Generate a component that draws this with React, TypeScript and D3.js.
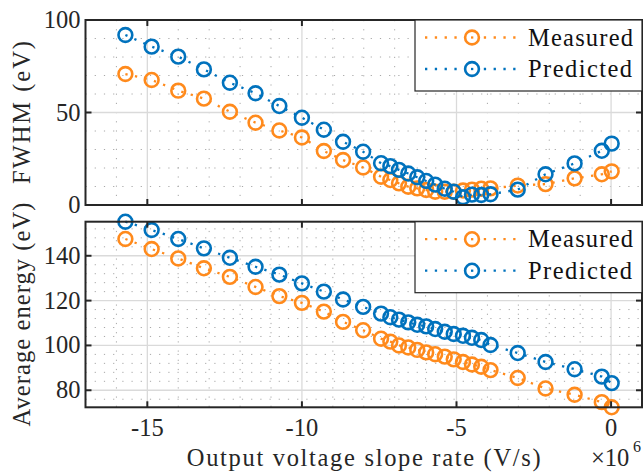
import React from "react";
import * as d3 from "d3";

// Slope rate (×10^6 V/s) for each operating point
const slopeRates = [
  -15.71, -14.86, -14.0, -13.17, -12.33, -11.5, -10.73, -10.0, -9.29, -8.67, -8.02,
  -7.44, -7.14, -6.86, -6.56, -6.27, -5.98, -5.69, -5.38, -5.09, -4.79, -4.5, -4.2, -3.9,
  -3.02, -2.12, -1.18, -0.3, 0.02,
];

// FWHM (eV)
const fwhmMeasured = [
  70.8, 67.6, 61.8, 57.5, 50.4, 44.5, 40.3, 36.5, 29.2, 24.3, 20.3,
  15.3, 13.5, 11.7, 9.9, 9.0, 8.1, 7.2, 7.2, 7.2, 7.8, 8.3, 8.8, 9.0,
  10.5, 11.3, 14.4, 16.6, 18.2,
];
const fwhmPredicted = [
  91.9, 85.6, 80.2, 73.3, 66.1, 60.4, 53.5, 47.2, 40.7, 34.2, 28.8,
  22.6, 21.0, 19.0, 17.0, 15.0, 13.0, 11.0, 8.8, 7.2, 4.2, 5.6, 5.4, 5.8,
  8.3, 16.6, 22.5, 29.3, 33.2,
];

// Average energy (eV)
const energyMeasured = [
  147.5, 143.0, 138.8, 134.4, 130.6, 126.1, 122.0, 119.0, 115.1, 110.5, 106.8,
  103.0, 101.7, 100.0, 99.1, 98.0, 96.9, 96.1, 95.0, 93.8, 92.6, 91.5, 90.5, 89.0,
  85.5, 80.8, 78.0, 74.7, 72.4,
];
const energyPredicted = [
  155.2, 151.5, 147.5, 143.3, 139.1, 135.1, 131.6, 127.7, 124.0, 120.5, 117.2,
  114.2, 112.6, 111.5, 110.3, 109.2, 108.5, 107.3, 106.1, 105.1, 104.3, 103.4, 102.4, 100.2,
  96.6, 92.6, 89.4, 86.1, 83.2,
];

const seriesNames = ["Measured", "Predicted"];
const seriesColors = ["#ff8a1c", "#0072bd"];

const xTicks = [-15, -10, -5, 0];
const xTickLabels = ["-15", "-10", "-5", "0"];
const xMinorTicks = [-16, -14, -13, -12, -11, -9, -8, -7, -6, -4, -3, -2, -1];
const fwhmTicks = [0, 50, 100];
const fwhmMinorTicks = [10, 20, 30, 40, 60, 70, 80, 90];
const energyTicks = [80, 100, 120, 140];
const energyMinorTicks = [76, 84, 88, 92, 96, 104, 108, 112, 116, 124, 128, 132, 136, 144, 148, 152];

const W = 643;
const H = 475;
const LEFT = 85.5;
const RIGHT = 642;
const FONT = "Liberation Serif";
const AXIS_COLOR = "#262626";
const textStyle = { fontFamily: FONT, fontSize: 24.5 } as const;

const x = d3.scaleLinear().domain([-17, 1]).range([LEFT, RIGHT]);

type PanelProps = {
  top: number;
  bottom: number;
  domain: [number, number];
  ticks: number[];
  minorTicks: number[];
  series: number[][];
  ylabel: string;
  ylabelLength: number;
  showXLabels: boolean;
};

function Panel({ top, bottom, domain, ticks, minorTicks, series, ylabel, ylabelLength, showXLabels }: PanelProps) {
  const y = d3.scaleLinear().domain(domain).range([bottom, top]);
  const line = d3
    .line<number>()
    .x((_, i) => x(slopeRates[i]))
    .y((d) => y(d));
  const tickLen = 6;
  const legendLeft = 415;
  const legendTop = top;
  const legendH = 71;
  return (
    <g>
      {/* minor grid */}
      {xMinorTicks.map((t) => (
        <line key={"xm" + t} x1={x(t)} x2={x(t)} y1={top} y2={bottom} stroke="#a8a8a8" strokeWidth={1} strokeDasharray="1.2 8" />
      ))}
      {minorTicks.map((t) => (
        <line key={"ym" + t} x1={LEFT} x2={RIGHT} y1={y(t)} y2={y(t)} stroke="#a8a8a8" strokeWidth={1} strokeDasharray="1.2 8" />
      ))}
      {/* major grid */}
      {xTicks.map((t) => (
        <line key={"xg" + t} x1={x(t)} x2={x(t)} y1={top} y2={bottom} stroke="#dadada" strokeWidth={1.3} />
      ))}
      {ticks.map((t) => (
        <line key={"yg" + t} x1={LEFT} x2={RIGHT} y1={y(t)} y2={y(t)} stroke="#dadada" strokeWidth={1.3} />
      ))}

      {/* series */}
      {series.map((vals, si) => (
        <g key={"s" + si}>
          <path d={line(vals) ?? ""} fill="none" stroke={seriesColors[si]} strokeWidth={2.3} strokeDasharray="2.3 7.5" />
          {vals.map((v, i) => (
            <circle key={i} cx={x(slopeRates[i])} cy={y(v)} r={6.9} fill="none" stroke={seriesColors[si]} strokeWidth={2.6} />
          ))}
        </g>
      ))}

      {/* box */}
      <rect x={LEFT} y={top} width={RIGHT - LEFT} height={bottom - top} fill="none" stroke={AXIS_COLOR} strokeWidth={2} />

      {/* ticks */}
      {xTicks.map((t) => (
        <g key={"xt" + t}>
          <line x1={x(t)} x2={x(t)} y1={bottom} y2={bottom - tickLen} stroke={AXIS_COLOR} strokeWidth={2} />
          <line x1={x(t)} x2={x(t)} y1={top} y2={top + tickLen} stroke={AXIS_COLOR} strokeWidth={2} />
        </g>
      ))}
      {ticks.map((t) => (
        <g key={"yt" + t}>
          <line x1={LEFT} x2={LEFT + tickLen} y1={y(t)} y2={y(t)} stroke={AXIS_COLOR} strokeWidth={2} />
          <line x1={RIGHT} x2={RIGHT - tickLen} y1={y(t)} y2={y(t)} stroke={AXIS_COLOR} strokeWidth={2} />
        </g>
      ))}

      {/* y tick labels */}
      {ticks.map((t) => (
        <text key={"yl" + t} x={80.5} y={y(t) + 8} textAnchor="end" style={textStyle} fill={AXIS_COLOR}>
          {String(t)}
        </text>
      ))}
      {showXLabels &&
        xTicks.map((t, i) => (
          <text key={"xl" + t} x={x(t)} y={436} textAnchor="middle" style={textStyle} fill={AXIS_COLOR}>
            {xTickLabels[i]}
          </text>
        ))}

      {/* y label */}
      <text
        transform={`translate(30,${(top + bottom) / 2}) rotate(-90)`}
        textAnchor="middle"
        style={textStyle}
        fill={AXIS_COLOR}
        textLength={ylabelLength}
        lengthAdjust="spacing"
      >
        {ylabel}
      </text>

      {/* legend */}
      <rect x={legendLeft} y={legendTop} width={RIGHT - legendLeft} height={legendH} fill="#ffffff" stroke={AXIS_COLOR} strokeWidth={1.2} />
      {seriesNames.map((name, si) => {
        const ly = legendTop + 17.5 + si * 31.5;
        return (
          <g key={"lg" + si}>
            <line x1={425} x2={520} y1={ly} y2={ly} stroke={seriesColors[si]} strokeWidth={2.3} strokeDasharray="2.3 7.5" />
            <circle cx={472} cy={ly} r={6.9} fill="#ffffff" stroke={seriesColors[si]} strokeWidth={2.6} />
            <line x1={471} x2={473.3} y1={ly} y2={ly} stroke={seriesColors[si]} strokeWidth={2.3} />
            <text x={528} y={ly + 8} style={textStyle} fill="#111" textLength={name === "Measured" ? 105 : 104} lengthAdjust="spacing">
              {name}
            </text>
          </g>
        );
      })}
    </g>
  );
}

export default function App() {
  const fwhmDomain: [number, number] = [0, 100];
  const energyDomain = d3.extent([...energyMeasured, ...energyPredicted]) as [number, number];
  return (
    <div style={{ position: "fixed", left: 0, top: 0, width: W, height: H, background: "#fff" }}>
      <svg width={W} height={H} viewBox={`0 0 ${W} ${H}`} style={{ display: "block" }}>
        <rect width={W} height={H} fill="#ffffff" />
        <Panel
          top={20}
          bottom={205}
          domain={fwhmDomain}
          ticks={fwhmTicks}
          minorTicks={fwhmMinorTicks}
          series={[fwhmMeasured, fwhmPredicted]}
          ylabel="FWHM (eV)"
          ylabelLength={143}
          showXLabels={false}
        />
        <Panel
          top={221.7}
          bottom={407.3}
          domain={energyDomain}
          ticks={energyTicks}
          minorTicks={energyMinorTicks}
          series={[energyMeasured, energyPredicted]}
          ylabel="Average energy (eV)"
          ylabelLength={224}
          showXLabels={true}
        />
        <text x={(LEFT + RIGHT) / 2} y={466} textAnchor="middle" style={textStyle} fill={AXIS_COLOR} textLength={354} lengthAdjust="spacing">
          Output voltage slope rate (V/s)
        </text>
        <text x={591} y={466} style={textStyle} fill={AXIS_COLOR}>
          ×10
        </text>
        <text x={633} y={452} style={{ fontFamily: FONT, fontSize: 16 }} fill={AXIS_COLOR}>
          6
        </text>
      </svg>
    </div>
  );
}
